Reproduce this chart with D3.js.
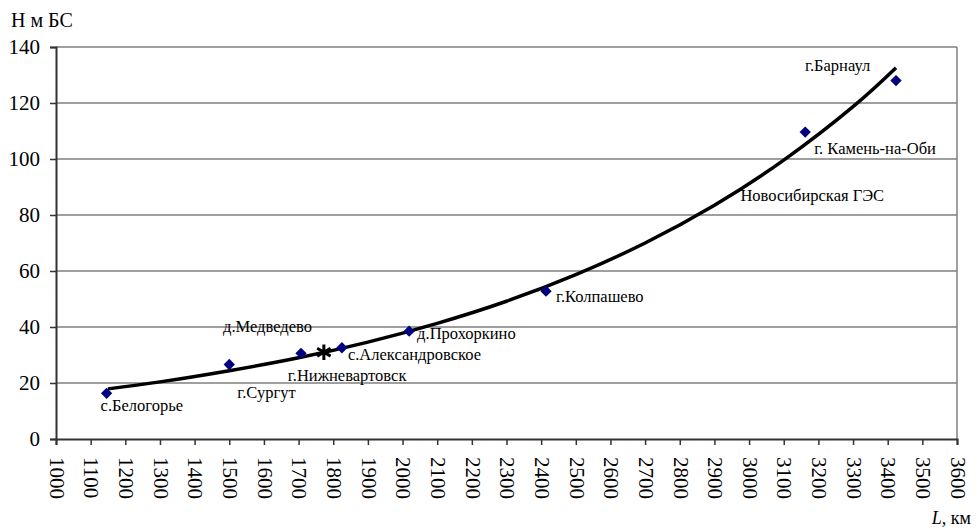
<!DOCTYPE html>
<html>
<head>
<meta charset="utf-8">
<script src="https://cdn.jsdelivr.net/npm/d3@7"></script>
<style>
  body { margin: 0; background: #fff; }
  svg text { font-family: "Liberation Serif", serif; fill: #000; }
</style>
</head>
<body>
<script>
// measured points (distance L, km ; height H, m BS)
const places = ["с.Белогорье", "г.Сургут", "д.Медведево", "с.Александровское", "д.Прохоркино", "г.Колпашево", "г. Камень-на-Оби", "г.Барнаул"];
const distL = [1146, 1500, 1707, 1825, 2019, 2414, 3162, 3424];
const heightH = [16.3, 26.6, 30.6, 32.6, 38.5, 52.8, 109.6, 128];

// star marker (Нижневартовск)
const starL = [1773];
const starH = [31];

// trend line
const trendL = [1150, 1300, 1500, 1700, 1900, 2100, 2300, 2500, 2700, 2900, 3100, 3300, 3424];
const trendH = [17.9, 20.4, 24.4, 29.0, 34.6, 41.3, 49.2, 58.7, 70.0, 83.5, 99.6, 118.7, 132.6];

const xTicks = d3.range(1000, 3601, 100);
const yTicks = [0, 20, 40, 60, 80, 100, 120, 140];

// label offsets from the point, px
const labelDx = [-6, 8, -78, 6, 8, 10, 9, -91];
const labelDy = [18, 33, -21, 12, 8, 11, 22, -10];

const font = "Liberation Serif";
const w = 977, h = 529;
const mLeft = 56, mRight = 957, mTop = 47, mBottom = 439;

const svg = d3.select("body").append("svg").attr("width", w).attr("height", h);

const x = d3.scaleLinear().domain([1000, 3600]).range([mLeft, mRight]);
const y = d3.scaleLinear().domain([0, 140]).range([mBottom, mTop]);

// grid
svg.append("g").selectAll("line").data(yTicks.slice(1)).enter().append("line")
  .attr("x1", mLeft).attr("x2", mRight)
  .attr("y1", d => y(d)).attr("y2", d => y(d))
  .attr("stroke", "#7f7f7f").attr("stroke-width", 1.5);

// right border
svg.append("line").attr("x1", mRight).attr("x2", mRight).attr("y1", mTop).attr("y2", mBottom)
  .attr("stroke", "#7f7f7f").attr("stroke-width", 1.5);

// axes
const xAxis = svg.append("g").attr("transform", `translate(0,${mBottom})`)
  .call(d3.axisBottom(x).tickValues(xTicks).tickSize(6).tickFormat(d3.format("d")));
xAxis.attr("font-family", font);
xAxis.select(".domain").attr("stroke", "#333").attr("stroke-width", 2);
xAxis.selectAll(".tick line").attr("stroke", "#333").attr("stroke-width", 1.5);
xAxis.selectAll(".tick text")
  .attr("font-family", font)
  .attr("font-size", 21)
  .attr("text-anchor", "start")
  .attr("transform", "rotate(90)")
  .attr("x", 18).attr("y", 0).attr("dy", "0.32em");

const yAxis = svg.append("g").attr("transform", `translate(${mLeft},0)`)
  .call(d3.axisLeft(y).tickValues(yTicks).tickSize(6));
yAxis.attr("font-family", font);
yAxis.select(".domain").attr("stroke", "#333").attr("stroke-width", 2);
yAxis.selectAll(".tick text").attr("font-family", font).attr("font-size", 21).attr("x", -16);
yAxis.selectAll(".tick line").attr("stroke", "#333").attr("stroke-width", 1.5);

// axis titles
svg.append("text").attr("x", 11).attr("y", 27).attr("font-family", font).attr("font-size", 20).text("Н м БС");
const lt = svg.append("text").attr("x", 971).attr("y", 524).attr("text-anchor", "end")
  .attr("font-family", font).attr("font-size", 18);
lt.append("tspan").attr("font-style", "italic").text("L");
lt.append("tspan").text(", км");

// trend line
const trend = trendL.map((d, i) => [d, trendH[i]]);
svg.append("path").datum(trend)
  .attr("d", d3.line().x(d => x(d[0])).y(d => y(d[1])).curve(d3.curveNatural))
  .attr("fill", "none").attr("stroke", "#000").attr("stroke-width", 3.5);

// diamonds
const pts = distL.map((d, i) => ({ L: d, H: heightH[i], name: places[i], dx: labelDx[i], dy: labelDy[i] }));
svg.append("g").selectAll("path").data(pts).enter().append("path")
  .attr("transform", d => `translate(${x(d.L)},${y(d.H)}) rotate(45)`)
  .attr("d", d3.symbol(d3.symbolSquare, 64))
  .attr("fill", "#000080");

// star
svg.append("g").selectAll("path").data(starL).enter().append("path")
  .attr("transform", (d, i) => `translate(${x(d)},${y(starH[i])})`)
  .attr("d", d3.symbol(d3.symbolAsterisk, 170))
  .attr("fill", "none").attr("stroke", "#000").attr("stroke-width", 3);

// labels
const lab = svg.append("g").attr("font-family", font).attr("font-size", 16.5);
lab.selectAll("text").data(pts).enter().append("text")
  .attr("font-family", font)
  .attr("x", d => x(d.L) + d.dx).attr("y", d => y(d.H) + d.dy)
  .text(d => d.name);

lab.append("text").attr("font-family", font)
  .attr("x", x(starL[0]) - 36).attr("y", y(starH[0]) + 29)
  .text("г.Нижневартовск");

lab.append("text").attr("font-family", font)
  .attr("x", x(2975)).attr("y", y(85))
  .text("Новосибирская ГЭС");
</script>
</body>
</html>
